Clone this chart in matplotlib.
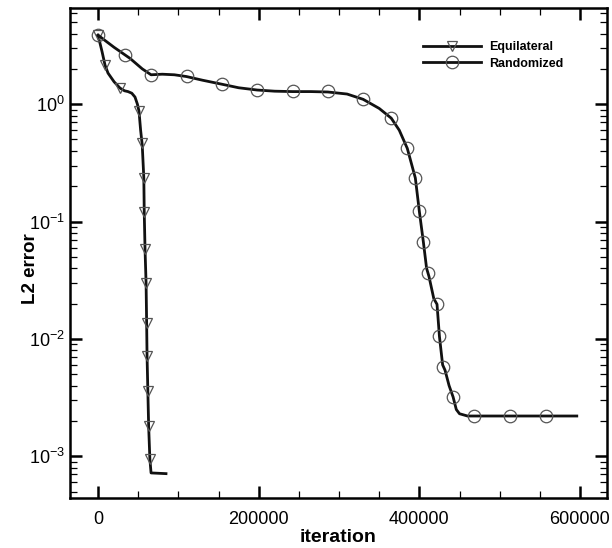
import matplotlib
matplotlib.use("Agg")
import matplotlib.pyplot as plt
from matplotlib.ticker import LogLocator, MultipleLocator, NullFormatter

plt.rcParams["font.family"] = ["Liberation Sans", "DejaVu Sans"]
plt.rcParams["mathtext.fontset"] = "custom"
plt.rcParams["mathtext.rm"] = "Liberation Sans"

# Equilateral: curve and marker positions
eq_x = [0, 5000, 8700, 12400, 20000, 27400, 33000, 37300, 42000, 46000, 49000,
        51000, 53000, 55000, 57000, 57500, 58500, 59800, 60500, 61000, 62000,
        63000, 64500, 66000, 84600]
eq_y = [3.87, 2.8, 2.15, 1.84, 1.55, 1.37, 1.30, 1.28, 1.24, 1.15, 1.0,
        0.87, 0.6, 0.45, 0.234, 0.12, 0.058, 0.0297, 0.0136, 0.0072, 0.0036,
        0.0018, 0.00095, 0.00072, 0.00071]
eq_mx = [0, 8700, 27400, 51000, 54800, 57000, 57300, 58500, 59800, 60500,
         61000, 62000, 63000, 64700]
eq_my = [3.87, 2.15, 1.37, 0.87, 0.465, 0.234, 0.120, 0.058, 0.0297, 0.0136,
         0.0072, 0.0036, 0.0018, 0.00095]

# Randomized: curve and marker positions
rn_x = [0, 20000, 40000, 55000, 66000, 80000, 95000, 110000, 130000, 154000,
        175000, 198000, 220000, 242000, 265000, 286000, 310000, 330000, 350000,
        365000, 375000, 385000, 395000, 400000, 405000, 409000, 412000, 418000,
        422000, 425000, 429000, 432000, 437000, 442000, 446000, 450000, 460000,
        596000]
rn_y = [3.87, 3.05, 2.45, 2.0, 1.78, 1.80, 1.78, 1.72, 1.60, 1.48,
        1.38, 1.32, 1.29, 1.28, 1.28, 1.27, 1.22, 1.10, 0.92,
        0.76, 0.60, 0.42, 0.235, 0.122, 0.067, 0.040, 0.034, 0.022,
        0.0197, 0.0105, 0.0060, 0.0054, 0.0040, 0.0032, 0.0025, 0.0023, 0.0022,
        0.0022]
rn_mx = [0, 33600, 66000, 110800, 154000, 198000, 242700, 286300, 329900,
         364700, 384600, 394600, 399600, 404500, 410800, 421800, 424400,
         429500, 441900, 468000, 512900, 557500]
rn_my = [3.87, 2.62, 1.77, 1.73, 1.48, 1.32, 1.29, 1.29, 1.10,
         0.76, 0.42, 0.234, 0.122, 0.0667, 0.0363, 0.0197, 0.0105,
         0.00573, 0.00318, 0.00219, 0.00219, 0.00219]

fig = plt.figure(figsize=(6.12, 5.48), dpi=100)
ax = fig.add_axes([0.1144, 0.0912, 0.8774, 0.8942])

lc = "#111111"
mc = "#555555"
ax.plot(eq_x, eq_y, color=lc, lw=2.0)
ax.plot(eq_mx, eq_my, ls="none", marker="v", ms=7, mfc="none", mec=mc, mew=0.9)
ax.plot(rn_x, rn_y, color=lc, lw=2.0)
ax.plot(rn_mx, rn_my, ls="none", marker="o", ms=9, mfc="none", mec=mc, mew=0.9)

# legend proxies
ax.plot([], [], color=lc, lw=2.0, marker="v", ms=7, mfc="none", mec=mc,
        mew=0.9, label="Equilateral")
ax.plot([], [], color=lc, lw=2.0, marker="o", ms=9, mfc="none", mec=mc,
        mew=0.9, label="Randomized")
handles, labels = ax.get_legend_handles_labels()
ax.legend(handles, labels, loc="upper left", bbox_to_anchor=(0.637, 0.955),
          frameon=False, handlelength=4.6, handletextpad=0.7,
          labelspacing=0.35, prop={"size": 9, "weight": "bold"})

ax.set_yscale("log")
ax.set_xlim(-34900, 633600)
ax.set_ylim(4.4e-4, 6.6)
ax.xaxis.set_major_locator(MultipleLocator(200000))
ax.xaxis.set_minor_locator(MultipleLocator(50000))
ax.yaxis.set_major_locator(LogLocator(base=10, numticks=10))
ax.yaxis.set_minor_locator(LogLocator(base=10, subs=range(2, 10), numticks=20))
ax.yaxis.set_minor_formatter(NullFormatter())

for s in ax.spines.values():
    s.set_linewidth(1.8)
ax.tick_params(which="both", direction="in", top=True, right=True,
               labelsize=13)
ax.tick_params(axis="x", which="major", pad=9)
ax.tick_params(which="major", length=8.5, width=1.8)
ax.tick_params(which="minor", length=5, width=0.9)

ax.set_xlabel("iteration", fontsize=14, fontweight="bold", labelpad=1)
ax.set_ylabel("L2 error", fontsize=13.5, fontweight="bold")
ax.yaxis.set_label_coords(-0.058, 0.468)

fig.savefig("out.png", dpi=100)
